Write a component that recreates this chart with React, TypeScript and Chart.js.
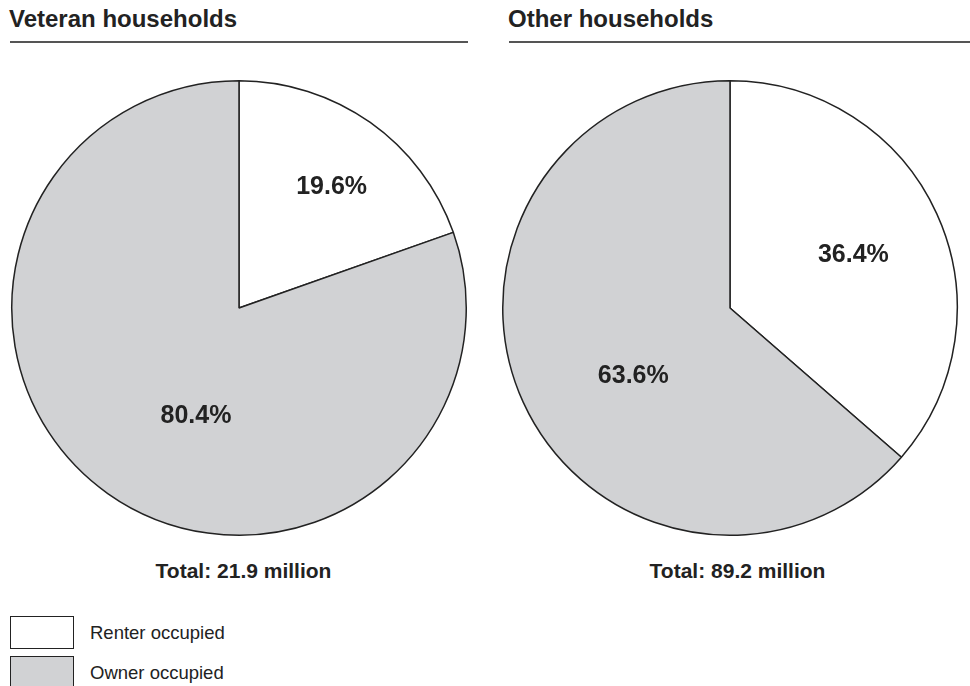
import React, { useEffect, useRef } from "react";
import { Chart, registerables } from "chart.js";

Chart.register(...registerables);

// ---- Data ----
const categories = ["Renter occupied", "Owner occupied"];
const veteranValues = [19.6, 80.4];
const otherValues = [36.4, 63.6];
const panelTitles = ["Veteran households", "Other households"];
const totals = ["Total: 21.9 million", "Total: 89.2 million"];

// ---- Styles ----
const FONT = '"Liberation Sans", Arial, Helvetica, sans-serif';
const TEXT = "#222222";
const sliceColors = ["#ffffff", "#d1d2d4"];
const borderColor = "#222222";
// label placement per slice: [angle offset in degrees, radius fraction]
const veteranLabelPlacement = [
  [2.2, 0.67],
  [-13.5, 0.51],
];
const otherLabelPlacement = [
  [1.4, 0.59],
  [-10.6, 0.52],
];

const labelPlugin = {
  id: "sliceLabels",
  afterDatasetsDraw(chart: any) {
    const placement = chart.options.plugins.sliceLabels.placement;
    const meta = chart.getDatasetMeta(0);
    const data = chart.data.datasets[0].data;
    const ctx = chart.ctx;
    ctx.save();
    ctx.font = `bold 25px ${FONT}`;
    ctx.fillStyle = TEXT;
    ctx.textAlign = "center";
    ctx.textBaseline = "middle";
    meta.data.forEach((arc: any, i: number) => {
      const p = arc.getProps(["x", "y", "startAngle", "endAngle", "outerRadius"], true);
      const [dA, frac] = placement[i];
      const mid = (p.startAngle + p.endAngle) / 2 + (dA * Math.PI) / 180;
      const r = p.outerRadius * frac;
      ctx.fillText(`${data[i].toFixed(1)}%`, p.x + Math.cos(mid) * r, p.y + Math.sin(mid) * r);
    });
    ctx.restore();
  },
};

function PieChart({ values, placement }: { values: number[]; placement: number[][] }) {
  const ref = useRef<HTMLCanvasElement | null>(null);
  useEffect(() => {
    if (!ref.current) return;
    const chart = new Chart(ref.current, {
      type: "pie",
      data: {
        labels: categories,
        datasets: [
          {
            data: values,
            backgroundColor: sliceColors,
            borderColor: borderColor,
            borderWidth: 1.5,
            hoverOffset: 0,
          },
        ],
      },
      options: {
        animation: false,
        responsive: false,
        maintainAspectRatio: false,
        layout: { padding: 2 },
        events: [],
        plugins: {
          legend: { display: false },
          tooltip: { enabled: false },
          title: { display: false },
          sliceLabels: { placement },
        } as any,
      },
      plugins: [labelPlugin],
    });
    return () => chart.destroy();
  }, [values, placement]);
  return <canvas ref={ref} width={460} height={460} style={{ width: 460, height: 460, display: "block" }} />;
}

const abs = (left: number, top: number, extra: React.CSSProperties = {}): React.CSSProperties => ({
  position: "absolute",
  left,
  top,
  ...extra,
});

export default function App() {
  const titleStyle: React.CSSProperties = {
    fontFamily: FONT,
    fontWeight: "bold",
    fontSize: 24,
    lineHeight: "24px",
    color: TEXT,
    whiteSpace: "nowrap",
  };
  const totalStyle: React.CSSProperties = {
    fontFamily: FONT,
    fontWeight: "bold",
    fontSize: 21,
    lineHeight: "21px",
    color: TEXT,
    whiteSpace: "nowrap",
    width: 300,
    textAlign: "center",
  };
  const legendText: React.CSSProperties = {
    fontFamily: FONT,
    fontSize: 18.5,
    lineHeight: "18.5px",
    color: TEXT,
    whiteSpace: "nowrap",
  };
  const boxStyle = (bg: string): React.CSSProperties => ({
    width: 62,
    height: 31,
    border: `1.5px solid ${borderColor}`,
    background: bg,
    boxSizing: "content-box",
  });
  return (
    <div style={{ position: "absolute", left: 0, top: 0, width: 970, height: 686, overflow: "hidden", background: "#fff" }}>
      <div style={abs(9, 7, titleStyle)}>{panelTitles[0]}</div>
      <div style={abs(10, 41, { width: 458, height: 2, background: "#555" })} />
      <div style={abs(508, 7, titleStyle)}>{panelTitles[1]}</div>
      <div style={abs(509, 41, { width: 461, height: 2, background: "#555" })} />

      <div style={abs(9, 78)}>
        <PieChart values={veteranValues} placement={veteranLabelPlacement} />
      </div>
      <div style={abs(500, 78)}>
        <PieChart values={otherValues} placement={otherLabelPlacement} />
      </div>

      <div style={abs(243.5 - 150, 560, totalStyle)}>{totals[0]}</div>
      <div style={abs(737.5 - 150, 560, totalStyle)}>{totals[1]}</div>

      <div style={abs(9.5, 615.5, boxStyle(sliceColors[0]))} />
      <div style={abs(90, 624, legendText)}>{categories[0]}</div>
      <div style={abs(9.5, 655.5, boxStyle(sliceColors[1]))} />
      <div style={abs(90, 664, legendText)}>{categories[1]}</div>
    </div>
  );
}
